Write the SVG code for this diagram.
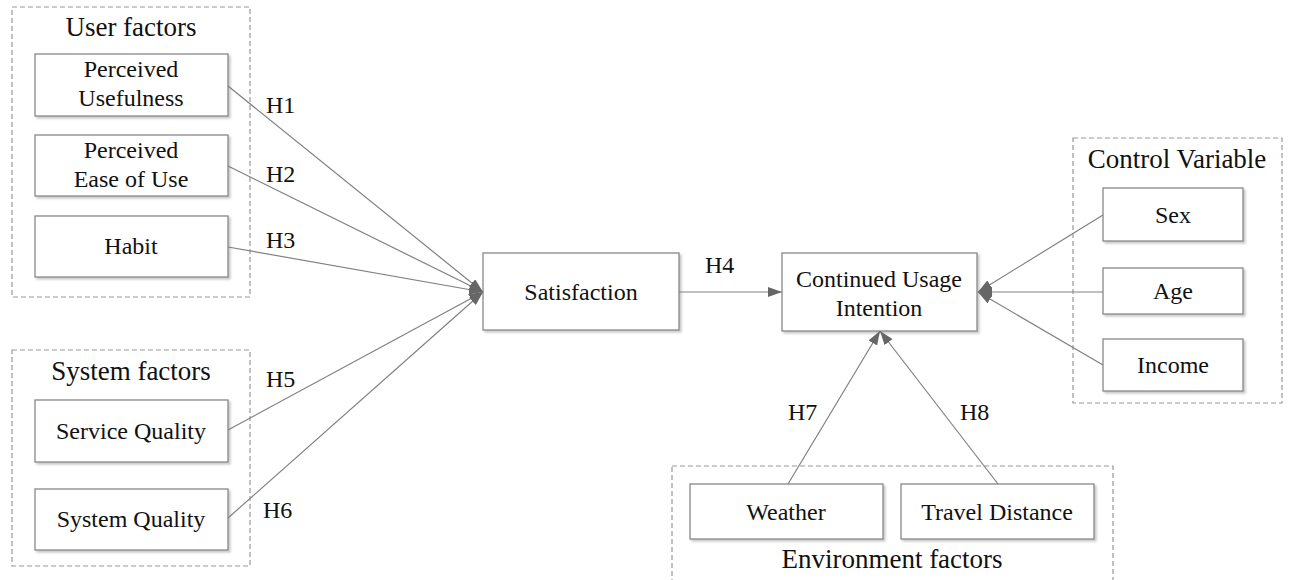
<svg xmlns="http://www.w3.org/2000/svg" width="1290" height="580" viewBox="0 0 1290 580">
<style>
text{font-family:"Liberation Serif","Times New Roman",serif;fill:#111;}
.t{font-size:24px;text-anchor:middle;}
.h{font-size:27px;text-anchor:middle;}
.lab{font-size:24px;}
.node{fill:#fff;stroke:#888;stroke-width:1.3;filter:url(#sh);}
.grp{fill:none;stroke:#999;stroke-width:1.2;stroke-dasharray:5 3;}
.c{stroke:#808080;stroke-width:1.2;fill:none;marker-end:url(#arr);}
</style>
<defs>
<filter id="sh" x="-5%" y="-5%" width="115%" height="125%">
<feDropShadow dx="2" dy="2" stdDeviation="1" flood-color="#bbb" flood-opacity="0.8"/>
</filter>
<marker id="arr" markerUnits="userSpaceOnUse" markerWidth="16" markerHeight="12" refX="14" refY="5" orient="auto">
<path d="M0,0 L14,5 L0,10 z" fill="#666"/>
</marker>
</defs>
<rect width="1290" height="580" fill="#fff"/>

<g id="user-factors">
<rect class="grp" x="12" y="7" width="238" height="290"/>
<text class="h" x="131" y="36">User factors</text>
</g>
<g id="system-factors">
<rect class="grp" x="12" y="350" width="238" height="216"/>
<text class="h" x="131" y="380">System factors</text>
</g>
<g id="control-variable">
<rect class="grp" x="1073" y="138" width="209" height="265"/>
<text class="h" x="1177" y="168">Control Variable</text>
</g>
<g id="environment-factors">
<rect class="grp" x="672" y="466" width="441" height="130"/>
<text class="h" x="892" y="568">Environment factors</text>
</g>

<g id="perceived-usefulness">
<rect class="node" x="35" y="54" width="193" height="62"/>
<text class="t" x="131" y="77">Perceived</text>
<text class="t" x="131" y="106">Usefulness</text>
</g>
<g id="perceived-ease">
<rect class="node" x="35" y="135" width="193" height="61"/>
<text class="t" x="131" y="158">Perceived</text>
<text class="t" x="131" y="187">Ease of Use</text>
</g>
<g id="habit">
<rect class="node" x="35" y="216" width="193" height="61"/>
<text class="t" x="131" y="254">Habit</text>
</g>
<g id="service-quality">
<rect class="node" x="35" y="400" width="193" height="62"/>
<text class="t" x="131" y="439">Service Quality</text>
</g>
<g id="system-quality">
<rect class="node" x="35" y="489" width="193" height="61"/>
<text class="t" x="131" y="527">System Quality</text>
</g>
<g id="satisfaction">
<rect class="node" x="483" y="253" width="196" height="77"/>
<text class="t" x="581" y="300">Satisfaction</text>
</g>
<g id="continued-usage-intention">
<rect class="node" x="782" y="253" width="195" height="78"/>
<text class="t" x="879" y="287">Continued Usage</text>
<text class="t" x="879" y="316">Intention</text>
</g>
<g id="sex">
<rect class="node" x="1103" y="188" width="140" height="53"/>
<text class="t" x="1173" y="223">Sex</text>
</g>
<g id="age">
<rect class="node" x="1103" y="268" width="140" height="46"/>
<text class="t" x="1173" y="299">Age</text>
</g>
<g id="income">
<rect class="node" x="1103" y="339" width="140" height="52"/>
<text class="t" x="1173" y="373">Income</text>
</g>
<g id="weather">
<rect class="node" x="690" y="484" width="193" height="55"/>
<text class="t" x="786" y="520">Weather</text>
</g>
<g id="travel-distance">
<rect class="node" x="901" y="484" width="193" height="55"/>
<text class="t" x="997" y="520">Travel Distance</text>
</g>

<g id="connectors">
<line class="c" x1="228" y1="86" x2="483" y2="292"/>
<line class="c" x1="228" y1="166" x2="483" y2="292"/>
<line class="c" x1="228" y1="247" x2="483" y2="292"/>
<line class="c" x1="228" y1="430" x2="483" y2="292"/>
<line class="c" x1="228" y1="518" x2="483" y2="292"/>
<line class="c" x1="679" y1="292" x2="782" y2="292"/>
<line class="c" x1="1103" y1="215" x2="978" y2="292"/>
<line class="c" x1="1103" y1="292" x2="978" y2="292"/>
<line class="c" x1="1103" y1="365" x2="978" y2="292"/>
<line class="c" x1="788" y1="484" x2="880" y2="331"/>
<line class="c" x1="998" y1="484" x2="880" y2="331"/>
<text class="lab" x="266" y="113">H1</text>
<text class="lab" x="266" y="182">H2</text>
<text class="lab" x="266" y="248">H3</text>
<text class="lab" x="266" y="387">H5</text>
<text class="lab" x="263" y="518">H6</text>
<text class="lab" x="705" y="273">H4</text>
<text class="lab" x="788" y="420">H7</text>
<text class="lab" x="960" y="420">H8</text>
</g>
</svg>
